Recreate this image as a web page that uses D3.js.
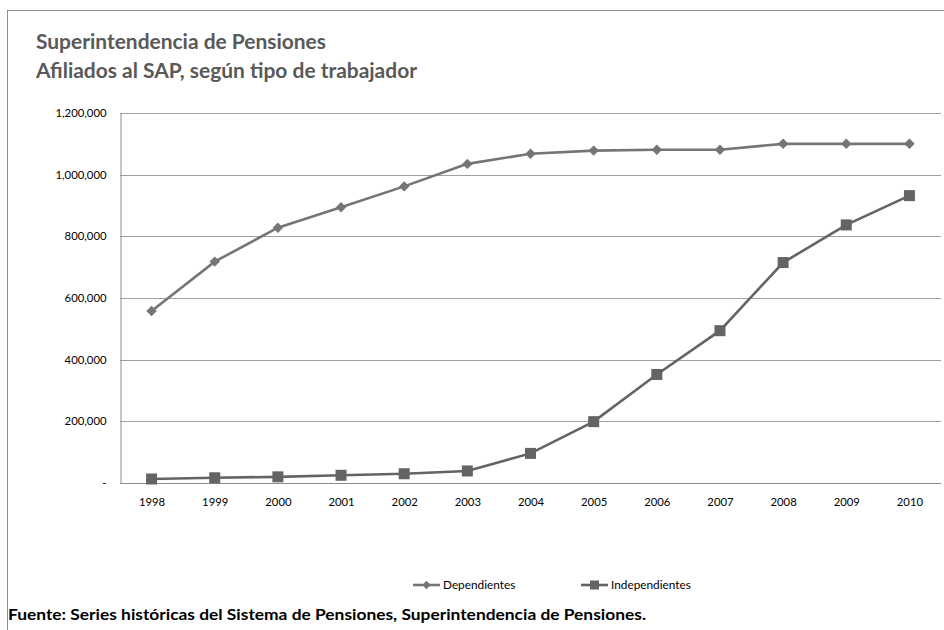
<!DOCTYPE html>
<html>
<head>
<meta charset="utf-8">
<script src="https://cdn.jsdelivr.net/npm/d3@7"></script>
<style>
body{margin:0;background:#fff;}
svg{display:block;}
</style>
</head>
<body>
<svg id="chart" width="944" height="630"></svg>
<script>
const years = ["1998","1999","2000","2001","2002","2003","2004","2005","2006","2007","2008","2009","2010"];
const dependientes = [558000,718000,828000,894000,962000,1035000,1068000,1078000,1081000,1081000,1100000,1100000,1100000];
const independientes = [13000,17000,20000,25000,30000,39000,96000,199000,352000,494000,715000,837000,932000];
const yTicks = [0,200000,400000,600000,800000,1000000,1200000];
const seriesNames = ["Dependientes","Independientes"];
const titleLines = ["Superintendencia de Pensiones","Afiliados al SAP, según tipo de trabajador"];
const sourceText = "Fuente:  Series históricas del Sistema de Pensiones, Superintendencia de Pensiones.";

const svg = d3.select("#chart");
const font = "Lato, 'Open Sans', sans-serif";

// outer frame
svg.append("rect").attr("x",7.5).attr("y",10.5).attr("width",960).attr("height",640)
  .attr("fill","none").attr("stroke","#8c8c8c").attr("stroke-width",1);

// title
const titleWidths = [290, 381];
svg.selectAll(".title").data(titleLines).join("text")
  .attr("x",36).attr("y",(d,i)=>49+i*29)
  .attr("font-family",font).attr("font-weight","bold").attr("font-size",20.5)
  .attr("textLength",(d,i)=>titleWidths[i]).attr("lengthAdjust","spacingAndGlyphs")
  .attr("fill","#595959").text(d=>d);

const m = {left:120, right:941, top:113, bottom:483};
const x = d3.scalePoint().domain(years).range([m.left, m.right]).padding(0.5);
const y = d3.scaleLinear().domain([0,1200000]).range([m.bottom, m.top]);

// gridlines
svg.append("g").selectAll("line").data(yTicks.slice(1)).join("line")
  .attr("x1",m.left).attr("x2",m.right)
  .attr("y1",d=>Math.round(y(d))+0.5).attr("y2",d=>Math.round(y(d))+0.5)
  .attr("stroke","#a0a0a0").attr("stroke-width",1);

// y axis
const yAxis = d3.axisLeft(y).tickValues(yTicks).tickSize(0).tickPadding(14)
  .tickFormat(d=> d===0 ? "-" : d3.format(",")(d));
const gy = svg.append("g").attr("transform",`translate(${m.left+0.5},0)`).call(yAxis);
gy.select(".domain").attr("stroke","#8c8c8c");
gy.selectAll("text").attr("font-family",font).attr("font-size",11.3).attr("fill","#000");

// x axis
const xAxis = d3.axisBottom(x).tickSize(0).tickPadding(14);
const gx = svg.append("g").attr("transform",`translate(0,${m.bottom+0.5})`).call(xAxis);
gx.select(".domain").attr("stroke","#8c8c8c").attr("d",`M${m.left},0H${m.right}`);
gx.selectAll("text").attr("font-family",font).attr("font-size",11.3).attr("fill","#000");

const line = d3.line().x((d,i)=>x(years[i])).y(d=>y(d));
const colDep = "#757575", colInd = "#646464";

svg.append("path").datum(dependientes).attr("d",line).attr("fill","none")
  .attr("stroke",colDep).attr("stroke-width",2.6);
svg.append("path").datum(independientes).attr("d",line).attr("fill","none")
  .attr("stroke",colInd).attr("stroke-width",2.6);

const diamond = d3.symbol().type(d3.symbolDiamond2).size(70);
svg.append("g").selectAll("path").data(dependientes).join("path")
  .attr("transform",(d,i)=>`translate(${x(years[i])},${y(d)})`)
  .attr("d",diamond).attr("fill",colDep);
svg.append("g").selectAll("rect").data(independientes).join("rect")
  .attr("x",(d,i)=>x(years[i])-5.5).attr("y",d=>y(d)-5.5)
  .attr("width",11).attr("height",11).attr("fill",colInd);

// legend
const legX = [413, 581];
const lg = svg.append("g");
seriesNames.forEach((name,i)=>{
  const g = lg.append("g").attr("transform",`translate(${legX[i]},585)`);
  g.append("line").attr("x1",0).attr("x2",27).attr("y1",0).attr("y2",0)
    .attr("stroke",i===0?colDep:colInd).attr("stroke-width",2.6);
  if(i===0){
    g.append("path").attr("transform","translate(13.5,0)").attr("d",d3.symbol().type(d3.symbolDiamond2).size(45)).attr("fill",colDep);
  } else {
    g.append("rect").attr("x",13.5-4.5).attr("y",-4.5).attr("width",9).attr("height",9).attr("fill",colInd);
  }
  g.append("text").attr("x",30).attr("y",4).attr("font-family",font).attr("font-size",11.8)
    .attr("fill","#000").text(name);
});

// source
svg.append("text").attr("x",8).attr("y",620).attr("font-family",font).attr("font-weight","bold")
  .attr("font-size",15).attr("textLength",638).attr("lengthAdjust","spacingAndGlyphs")
  .attr("fill","#000").text(sourceText);
</script>
</body>
</html>
